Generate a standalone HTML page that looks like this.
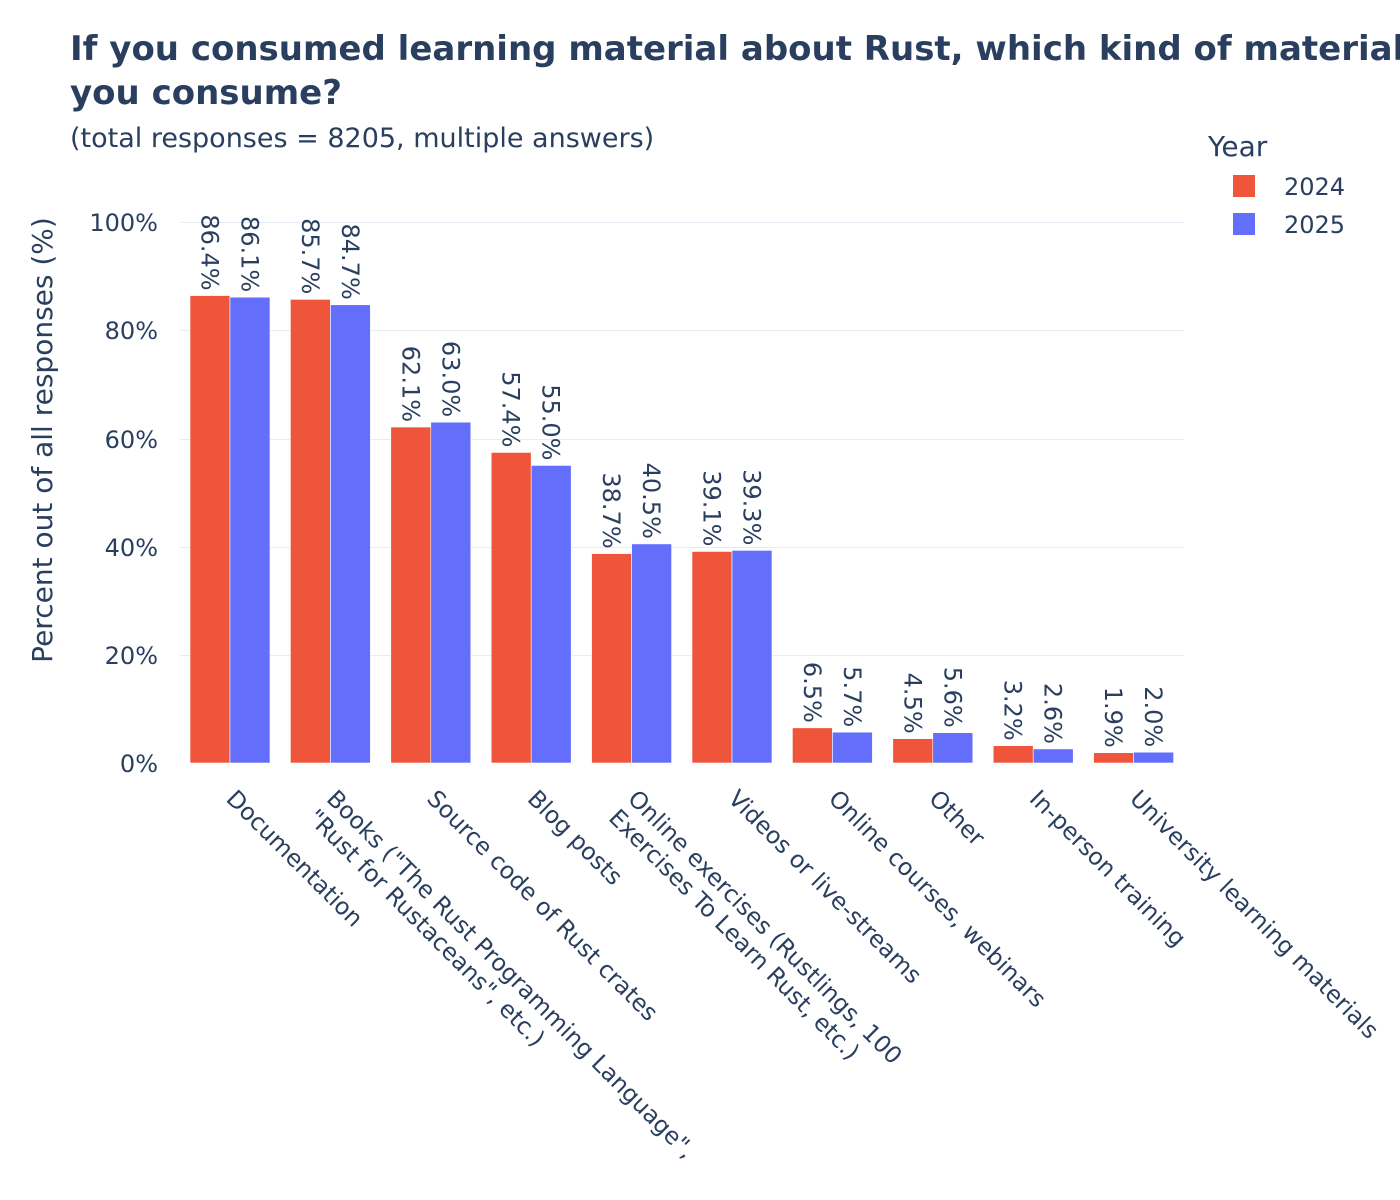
<!DOCTYPE html>
<html><head><meta charset="utf-8"><style>
html,body{margin:0;padding:0;background:#fff;}
svg{display:block;font-family:"DejaVu Sans","Liberation Sans",sans-serif;}
</style></head><body>
<svg width="1400" height="1200" viewBox="0 0 1400 1200" xmlns="http://www.w3.org/2000/svg">
<rect width="1400" height="1200" fill="#fff"/>
<g fill="#2a3f5f">
<text x="70" y="60" font-size="34" font-weight="bold">If you consumed learning material about Rust, which kind of material did</text>
<text x="70" y="104" font-size="34" font-weight="bold">you consume?</text>
<text x="70" y="147" font-size="27">(total responses = 8205, multiple answers)</text>
<text x="1208" y="156" font-size="28">Year</text>
<text x="1284" y="195" font-size="24">2024</text>
<text x="1284" y="233" font-size="24">2025</text>
<text transform="translate(52,440) rotate(-90)" text-anchor="middle" font-size="28">Percent out of all responses (%)</text>
</g>
<rect x="1233" y="175" width="22" height="22" fill="#EF553B"/>
<rect x="1233" y="213" width="22" height="22" fill="#636EFA"/>
<g stroke="#e5ecf6" stroke-width="1">
<line x1="180" x2="1184" y1="222.5" y2="222.5"/>
<line x1="180" x2="1184" y1="330.5" y2="330.5"/>
<line x1="180" x2="1184" y1="439.5" y2="439.5"/>
<line x1="180" x2="1184" y1="547.5" y2="547.5"/>
<line x1="180" x2="1184" y1="655.5" y2="655.5"/>
</g>
<g fill="#2a3f5f" font-size="24" text-anchor="end">
<text x="158" y="231">100%</text>
<text x="158" y="339">80%</text>
<text x="158" y="448">60%</text>
<text x="158" y="556">40%</text>
<text x="158" y="664">20%</text>
<text x="158" y="772">0%</text>
</g>
<g id="bars"></g>
<g id="xl" fill="#2a3f5f" font-size="23.5"></g>
<script>
var d=[["Documentation",86.4,86.1],["Books (\"The Rust Programming Language\",|\"Rust for Rustaceans\", etc.)",85.7,84.7],["Source code of Rust crates",62.1,63.0],["Blog posts",57.4,55.0],["Online exercises (Rustlings, 100|Exercises To Learn Rust, etc.)",38.7,40.5],["Videos or live-streams",39.1,39.3],["Online courses, webinars",6.5,5.7],["Other",4.5,5.6],["In-person training",3.2,2.6],["University learning materials",1.9,2.0]];
var ns="http://www.w3.org/2000/svg",b=document.getElementById("bars"),xl=document.getElementById("xl");
function el(t,a,p,txt){var e=document.createElementNS(ns,t);for(var k in a)e.setAttribute(k,a[k]);if(txt!=null)e.textContent=txt;p.appendChild(e);return e;}
d.forEach(function(r,i){
 var c=230+100.4*i;
 [[r[1],"#EF553B",-40],[r[2],"#636EFA",0]].forEach(function(v){
  var top=763-v[0]*5.41;
  el("rect",{x:c+v[2],y:top,width:40,height:763-top,fill:v[1],stroke:"#fff","stroke-width":0.6},b);
  var cx=c+v[2]+20-8.5,ty=top-5;
  el("text",{x:cx,y:ty,"text-anchor":"end","font-size":24,fill:"#2a3f5f",transform:"rotate(90,"+cx+","+ty+")"},b,v[0].toFixed(1)+"%");
 });
 var lines=r[0].split("|"),x=c-5,y=800;
 var t=el("text",{x:x,y:y,transform:"rotate(45,"+x+","+y+")"},xl);
 lines.forEach(function(l,j){el("tspan",{x:x,dy:j?"1.15em":"0"},t,l);});
});
</script>
</svg>
</body></html>
